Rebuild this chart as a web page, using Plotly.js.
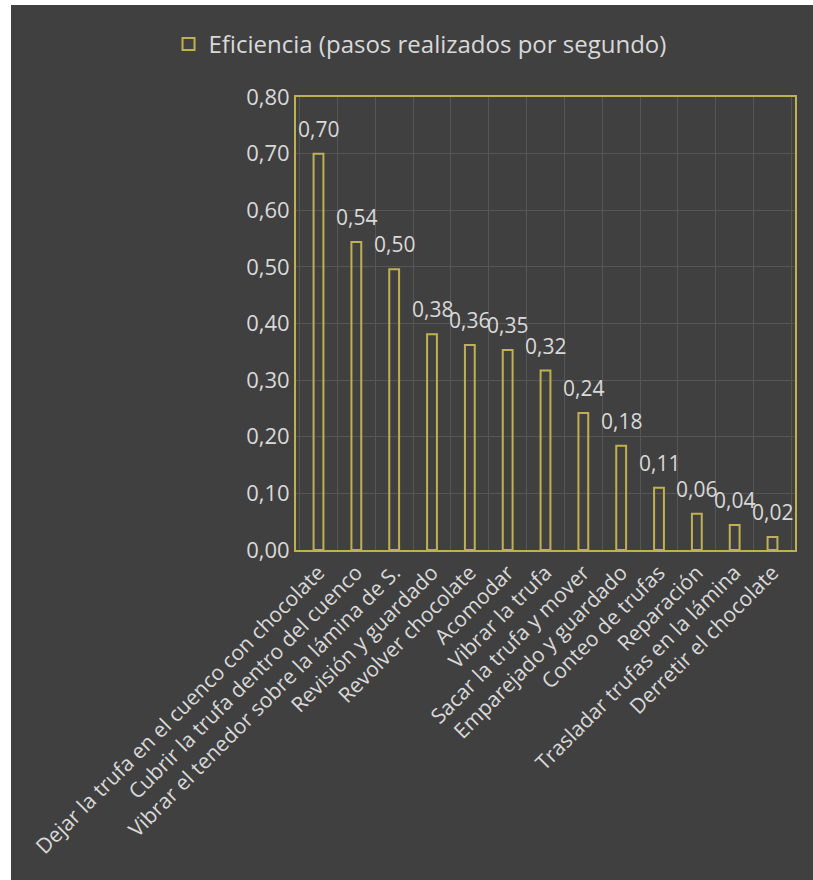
<!DOCTYPE html>
<html>
<head>
<meta charset="utf-8">
<script src="https://cdn.plot.ly/plotly-3.0.1.min.js"></script>
<style>
  html, body { margin: 0; padding: 0; background: #ffffff; }
  #chart { position: absolute; left: 11px; top: 5px; width: 802px; height: 875px; }
</style>
</head>
<body>
<div id="chart"></div>
<script>
const categories = [
  "Dejar la trufa en el cuenco con chocolate",
  "Cubrir la trufa dentro del cuenco",
  "Vibrar el tenedor sobre la lámina de S.",
  "Revisión y guardado",
  "Revolver chocolate",
  "Acomodar",
  "Vibrar la trufa",
  "Sacar la trufa y mover",
  "Emparejado y guardado",
  "Conteo de trufas",
  "Reparación",
  "Trasladar trufas en la lámina",
  "Derretir el chocolate"
];
const seriesName = "Eficiencia (pasos realizados por segundo)";
const values = [0.700, 0.544, 0.496, 0.381, 0.362, 0.353, 0.317, 0.242, 0.184, 0.110, 0.064, 0.044, 0.023];

const yellow = "#c0b150";
const textColor = "#d9d9d9";
const font = "Open Sans, sans-serif";

const trace = {
  type: "bar",
  x: categories,
  y: values,
  name: seriesName,
  width: 0.26,
  marker: { color: "rgba(0,0,0,0)", line: { color: yellow, width: 2 } },
  showlegend: true,
  hoverinfo: "none"
};

const fmt = v => v.toFixed(2).replace(".", ",");
const annotations = categories.map((c, i) => ({
  x: c, y: values[i], xref: "x", yref: "y",
  text: fmt(values[i]),
  showarrow: false, yanchor: "bottom", xanchor: "center", yshift: 9,
  font: { family: font, size: 21, color: textColor }
}));

const layout = {
  paper_bgcolor: "#404040",
  plot_bgcolor: "#404040",
  separators: ",.",
  margin: { l: 285, r: 18, t: 92, b: 330 },
  font: { family: font, size: 22, color: textColor },
  showlegend: true,
  legend: {
    orientation: "h", x: 0.51, xref: "container", xanchor: "center",
    y: 0.955, yref: "container", yanchor: "middle",
    font: { family: font, size: 24, color: textColor }, bgcolor: "rgba(0,0,0,0)",
    itemwidth: 30
  },
  xaxis: {
    type: "category",
    tickangle: -45,
    tickson: "boundaries",
    showgrid: true, gridcolor: "#565656", gridwidth: 1,
    ticks: "",
    showline: true, linecolor: yellow, linewidth: 2, mirror: true,
    tickfont: { family: font, size: 21, color: textColor },
    zeroline: false, fixedrange: true
  },
  yaxis: {
    range: [0, 0.8], dtick: 0.1, tick0: 0,
    tickformat: ".2f",
    showgrid: true, gridcolor: "#565656", gridwidth: 1,
    ticks: "",
    showline: true, linecolor: yellow, linewidth: 2, mirror: true,
    tickfont: { family: font, size: 22, color: textColor },
    zeroline: false, fixedrange: true
  },
  annotations: annotations,
  bargap: 0.74
};

Plotly.newPlot("chart", [trace], layout, { displayModeBar: false, staticPlot: true });
</script>
</body>
</html>
